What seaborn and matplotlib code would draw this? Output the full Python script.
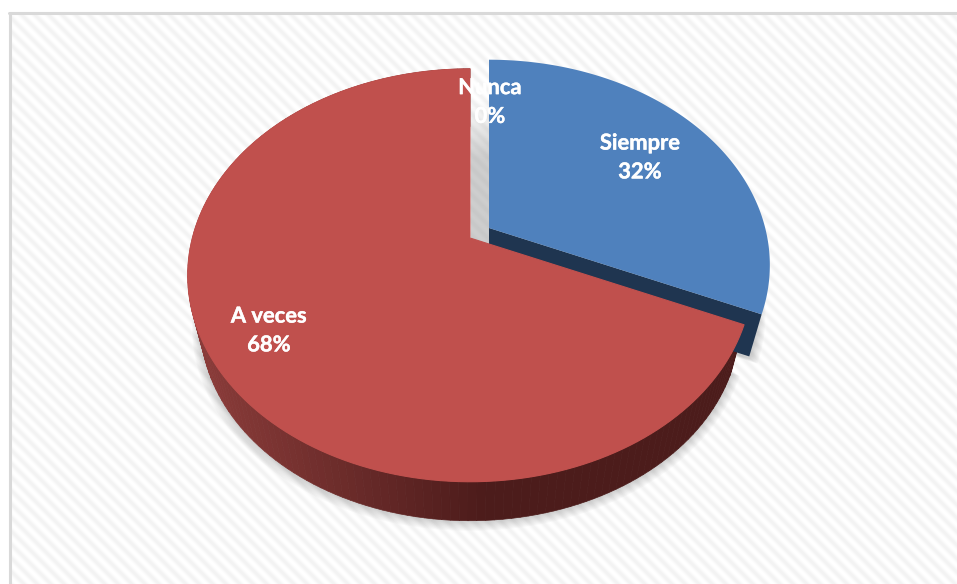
import numpy as np
import matplotlib
matplotlib.use("Agg")
import matplotlib.pyplot as plt
import matplotlib.patheffects as pe
import seaborn as sns
from matplotlib.collections import PolyCollection
from matplotlib.patches import Polygon

sns.set_theme(style="white")
plt.rcParams['font.family'] = ['Lato', 'DejaVu Sans']

# datos
categorias = ["Siempre", "A veces", "Nunca"]
valores = [31.6, 68.4, 0.0]
colores = sns.color_palette(["#4f81bd", "#c0504d", "#9bbb59"])
pos_etiquetas = [(640, 157.5), (269, 330.5), (490, 102)]

W, H = 957, 584
fig = plt.figure(figsize=(W / 100, H / 100), dpi=100)
ax = fig.add_axes([0, 0, 1, 1])

wedges, _ = ax.pie(valores, colors=colores, startangle=90, counterclock=False)
angulos = [(w.theta1, w.theta2) for w in wedges]
for w in wedges:
    w.remove()
ax.set_aspect("auto")
ax.set_xlim(0, W)
ax.set_ylim(H, 0)
ax.axis("off")


# perspectiva del disco (radio 1) hacia pixeles
def proyectar(x, y, cx, cy, esc=1.0):
    f = esc / (1 + 0.1807 * y)
    return cx + 279 * x * f, cy - 200.7 * y * f


def arco(ang, cx, cy, esc=1.0):
    t = np.radians(np.linspace(ang[0], ang[1], 160))
    px, py = proyectar(np.cos(t), np.sin(t), cx, cy, esc)
    return np.column_stack([px, py])


def sector(ang, cx, cy, esc=1.0):
    return np.vstack([[cx, cy], arco(ang, cx, cy, esc)])


# fondo con rayas diagonales y marco
xx, yy = np.meshgrid(np.arange(W), np.arange(H))
rayas = 249 + 6 * np.cos(2 * np.pi * (xx - yy) / 13.5)
rayas[(xx < 10) | (yy < 13)] = 255
ax.imshow(rayas, cmap="gray", vmin=0, vmax=255, extent=(0, W, H, 0), aspect="auto", zorder=0)
ax.plot([9.7, 9.7], [H, 13], color="#d9d9d9", lw=2.2, zorder=1)
ax.plot([9, W], [13, 13], color="#d9d9d9", lw=2.2, zorder=1)

ang_azul, ang_rojo = angulos[0], angulos[1]
azul_sup = (489, 228, 0.99)
azul_inf = (489, 274, 0.945)
rojo_sup = (470, 238, 0.995)
rojo_inf = (470, 288, 0.95)

# sombra difusa
for i in range(1, 10):
    e = 1 + i * 0.0035
    ax.add_patch(Polygon(sector(ang_rojo, 470, 288 + i * 0.3, rojo_inf[2] * e), fc="#555555", ec="none", alpha=0.03, zorder=2))
    ax.add_patch(Polygon(sector(ang_azul, 489, 276 + i * 0.3, azul_inf[2] * e), fc="#555555", ec="none", alpha=0.03, zorder=2))

# franja gris entre las porciones
grad = np.zeros((120, 1, 4))
grad[..., :3] = 0.6
grad[..., 3] = np.clip(np.linspace(-0.2, 1.2, 120), 0, 0.48)[:, None]
ax.imshow(grad, extent=(470.5, 489.5, 246, 75), aspect="auto", zorder=3)

# pared lateral roja con degradado
arr = arco(ang_rojo, *rojo_sup)
abj = arco(ang_rojo, *rojo_inf)
quads = [[arr[i], arr[i + 1], abj[i + 1], abj[i]] for i in range(len(arr) - 1)]
oscuro = np.array([0x4c, 0x1c, 0x1b]) / 255
claro = np.array([0x8a, 0x3b, 0x39]) / 255
mezcla = np.clip((480 - arr[:-1, 0]) / 280, 0, 1)[:, None]
ax.add_collection(PolyCollection(quads, facecolors=oscuro + (claro - oscuro) * mezcla, edgecolors="face", lw=0.5, zorder=4))

# cara de corte azul oscuro
p1 = proyectar(np.cos(np.radians(ang_azul[0])), np.sin(np.radians(ang_azul[0])), *azul_sup)
p2 = proyectar(np.cos(np.radians(ang_azul[0])), np.sin(np.radians(ang_azul[0])), *azul_inf)
ax.add_patch(Polygon([azul_sup[:2], p1, p2, azul_inf[:2]], fc="#1f3550", ec="none", zorder=5))

# caras superiores
ax.add_patch(Polygon(sector(ang_azul, *azul_sup), fc=colores[0], ec="none", zorder=6))
ax.add_patch(Polygon(sector(ang_rojo, *rojo_sup), fc=colores[1], ec=colores[1], lw=0.8, joinstyle="round", zorder=7))

# etiquetas
for nombre, val, (tx, ty) in zip(categorias, valores, pos_etiquetas):
    ax.text(tx, ty, f"{nombre}\n{val:.0f}%", color="white", fontsize=15.8, fontweight="bold",
            ha="center", va="center", linespacing=1.46, zorder=8,
            path_effects=[pe.withStroke(linewidth=0.3, foreground="white")])

fig.savefig("out.png", dpi=100)
